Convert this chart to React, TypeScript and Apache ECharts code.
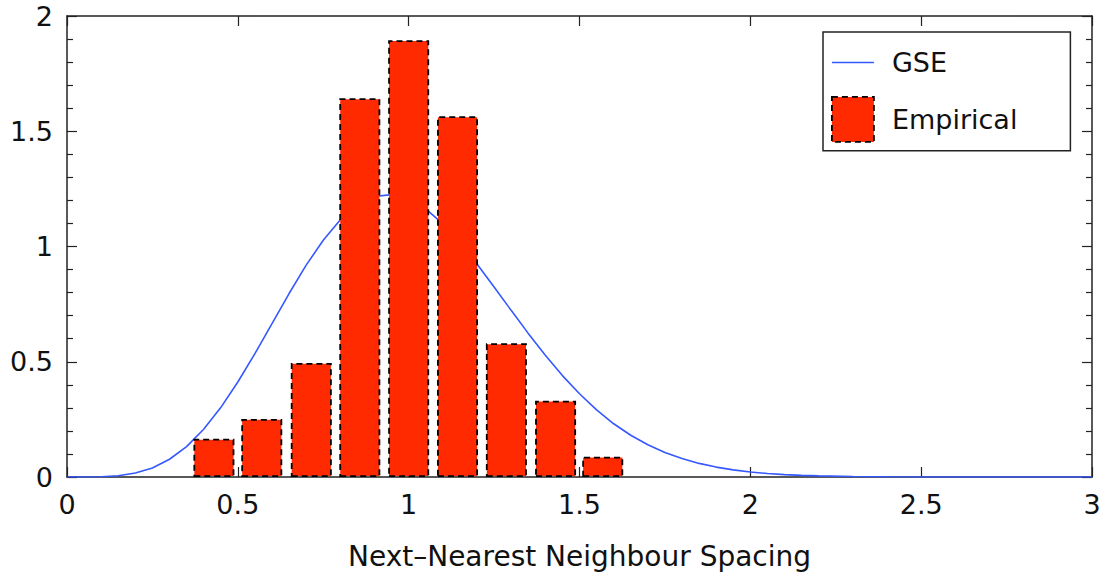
import React, { useEffect, useRef } from "react";
import * as echarts from "echarts";

const binCenters = [0.43, 0.57, 0.715, 0.857, 1.0, 1.143, 1.286, 1.43, 1.568];
const empiricalValues = [0.166, 0.252, 0.495, 1.643, 1.895, 1.565, 0.58, 0.331, 0.088];

const gseX = [
  0, 0.05, 0.1, 0.15, 0.2, 0.25, 0.3, 0.35, 0.4, 0.45, 0.5, 0.55, 0.6, 0.65, 0.7, 0.75,
  0.8, 0.85, 0.9, 0.95, 1.0, 1.05, 1.1, 1.15, 1.2, 1.25, 1.3, 1.35, 1.4, 1.45, 1.5,
  1.55, 1.6, 1.65, 1.7, 1.75, 1.8, 1.85, 1.9, 1.95, 2.0, 2.05, 2.1, 2.15, 2.2, 2.3,
  2.4, 2.5, 2.75, 3.0,
];
const gseY = [
  0, 0.0001, 0.0011, 0.0056, 0.017, 0.039, 0.077, 0.132, 0.207, 0.301, 0.412, 0.535,
  0.665, 0.796, 0.919, 1.027, 1.116, 1.18, 1.217, 1.225, 1.206, 1.163, 1.098, 1.017,
  0.924, 0.824, 0.723, 0.623, 0.528, 0.44, 0.361, 0.291, 0.231, 0.181, 0.14, 0.106,
  0.08, 0.059, 0.043, 0.031, 0.022, 0.015, 0.0104, 0.0071, 0.0047, 0.002, 0.0008,
  0.0003, 0, 0,
];

const xTicks = { min: 0, max: 3, interval: 0.5 };
const yTicks = { min: 0, max: 2, interval: 0.5 };

const FONT = "DejaVu Sans";
const FRAME = "#222";
const BLUE = "#3558ff";
const RED = "#ff2a00";

export default function App() {
  const ref = useRef<HTMLDivElement>(null);
  useEffect(() => {
    if (!ref.current) return;
    const chart = echarts.init(ref.current, null, { renderer: "svg" });
    const axisLine = { show: true, onZero: false, lineStyle: { color: FRAME, width: 1.5 } };
    const tick = { show: true, inside: true, length: 10, lineStyle: { color: FRAME, width: 1.2 } };
    const minorTick = { show: true, splitNumber: 5, length: 6, lineStyle: { color: FRAME, width: 1.2 } };
    const label = { fontFamily: FONT, fontSize: 27, color: "#111" };
    chart.setOption({
      animation: false,
      backgroundColor: "#fff",
      grid: { left: 67, right: 21, top: 16, bottom: 103, containLabel: false },
      xAxis: [
        {
          type: "value",
          position: "bottom",
          ...xTicks,
          axisLine,
          axisTick: tick,
          splitLine: { show: false },
          axisLabel: { ...label, margin: 14 },
          name: "Next\u2013Nearest Neighbour Spacing",
          nameLocation: "middle",
          nameGap: 65,
          nameTextStyle: { fontFamily: FONT, fontSize: 28, color: "#111" },
        },
        {
          type: "value",
          position: "top",
          ...xTicks,
          axisLine,
          axisTick: tick,
          splitLine: { show: false },
          axisLabel: { show: false },
        },
      ],
      yAxis: [
        {
          type: "value",
          position: "left",
          ...yTicks,
          axisLine,
          axisTick: tick,
          minorTick,
          splitLine: { show: false },
          minorSplitLine: { show: false },
          axisLabel: { ...label, margin: 14 },
        },
        {
          type: "value",
          position: "right",
          ...yTicks,
          axisLine,
          axisTick: tick,
          minorTick,
          splitLine: { show: false },
          minorSplitLine: { show: false },
          axisLabel: { show: false },
        },
      ],
      legend: {
        orient: "vertical",
        left: 823,
        top: 32,
        padding: [17, 53, 8, 8],
        itemGap: 20,
        itemWidth: 42,
        itemHeight: 45,
        borderColor: FRAME,
        borderWidth: 1.5,
        backgroundColor: "#fff",
        textStyle: { fontFamily: FONT, fontSize: 27, color: "#111", padding: [0, 0, 0, 13] },
        data: [
          {
            name: "GSE",
            icon: "path://M0,0H42V1.6H0Z",
            itemStyle: { color: BLUE, borderWidth: 0 },
          },
          {
            name: "Empirical",
            icon: "rect",
            itemStyle: {
              color: RED,
              borderColor: "#000",
              borderWidth: 1.8,
              borderType: [6, 4],
            },
          },
        ],
      },
      series: [
        {
          name: "GSE",
          type: "line",
          xAxisIndex: 0,
          yAxisIndex: 0,
          z: 1,
          symbol: "none",
          smooth: false,
          lineStyle: { color: BLUE, width: 1.6 },
          itemStyle: { color: BLUE },
          data: gseX.map((x, i) => [x, gseY[i]]),
        },
        {
          name: "Empirical",
          type: "bar",
          xAxisIndex: 0,
          yAxisIndex: 0,
          z: 2,
          barWidth: 41,
          itemStyle: {
            color: RED,
            borderColor: "#000",
            borderWidth: 1.8,
            borderType: [6, 4],
          },
          data: binCenters.map((x, i) => [x, empiricalValues[i]]),
        },
      ],
    });
    return () => chart.dispose();
  }, []);
  return (
    <div
      ref={ref}
      style={{ position: "fixed", left: 0, top: 0, width: 1113, height: 580 }}
    />
  );
}
